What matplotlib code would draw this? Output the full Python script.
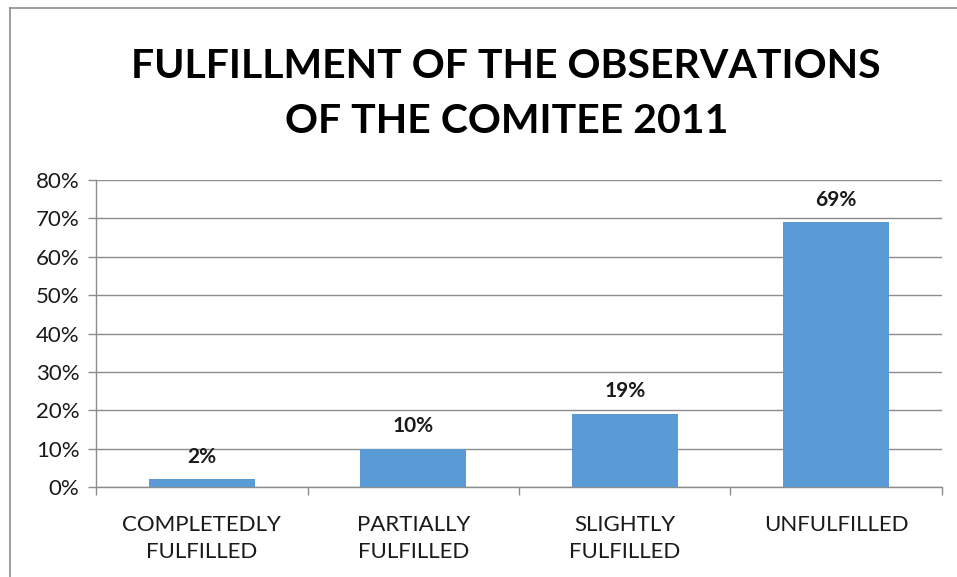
import numpy as np
import matplotlib.pyplot as plt
from matplotlib.ticker import PercentFormatter
from matplotlib.lines import Line2D

categories = ["COMPLETEDLY\nFULFILLED", "PARTIALLY\nFULFILLED", "SLIGHTLY\nFULFILLED", "UNFULFILLED"]
values = [2, 10, 19, 69]
yticks = [0, 10, 20, 30, 40, 50, 60, 70, 80]

plt.rcParams['font.family'] = ['Lato', 'DejaVu Sans']

fig = plt.figure(figsize=(9.57, 5.77), dpi=100)
ax = fig.add_axes([96/957, 1-487/577, (942-96)/957, (487-180)/577])

x = np.arange(len(categories))
ax.bar(x, values, width=0.5, color="#5B9BD5", zorder=3)
for xi, v in zip(x, values):
    ax.text(xi, v + 3.3, f"{v}%", ha="center", va="bottom", fontsize=15, fontweight="bold", color="#1a1a1a")

ax.set_xlim(-0.5, len(categories) - 0.5)
ax.set_ylim(0, 80)
ax.set_yticks(yticks)
ax.yaxis.set_major_formatter(PercentFormatter(decimals=0))
ax.grid(axis="y", color="#8c8c8c", linewidth=1, zorder=0)

ax.set_xticks(x)
ax.set_xticklabels(categories, fontsize=16, color="#1a1a1a", linespacing=1.45)
ax.set_xticks(np.arange(-0.5, len(categories)), minor=True)
ax.tick_params(axis="x", which="major", length=0, pad=20)
ax.tick_params(axis="x", which="minor", length=6, color="#8c8c8c", width=1)
ax.tick_params(axis="y", length=6, color="#8c8c8c", width=1, labelsize=16, labelcolor="#1a1a1a", pad=6)

for s in ["top", "right"]:
    ax.spines[s].set_visible(False)
for s in ["left", "bottom"]:
    ax.spines[s].set_color("#8c8c8c")
    ax.spines[s].set_linewidth(1)

fig.text(0.529, 1-94/577, "FULFILLMENT OF THE OBSERVATIONS\nOF THE COMITEE 2011",
         ha="center", va="center", fontsize=29.5, fontweight="bold", linespacing=1.62, color="black")

# outer frame lines
fig.add_artist(Line2D([10/957, 1], [1-8/577, 1-8/577], color="#8c8c8c", linewidth=1.2))
fig.add_artist(Line2D([10/957, 10/957], [0, 1-8/577], color="#8c8c8c", linewidth=1.2))

fig.savefig("out.png", dpi=100)
